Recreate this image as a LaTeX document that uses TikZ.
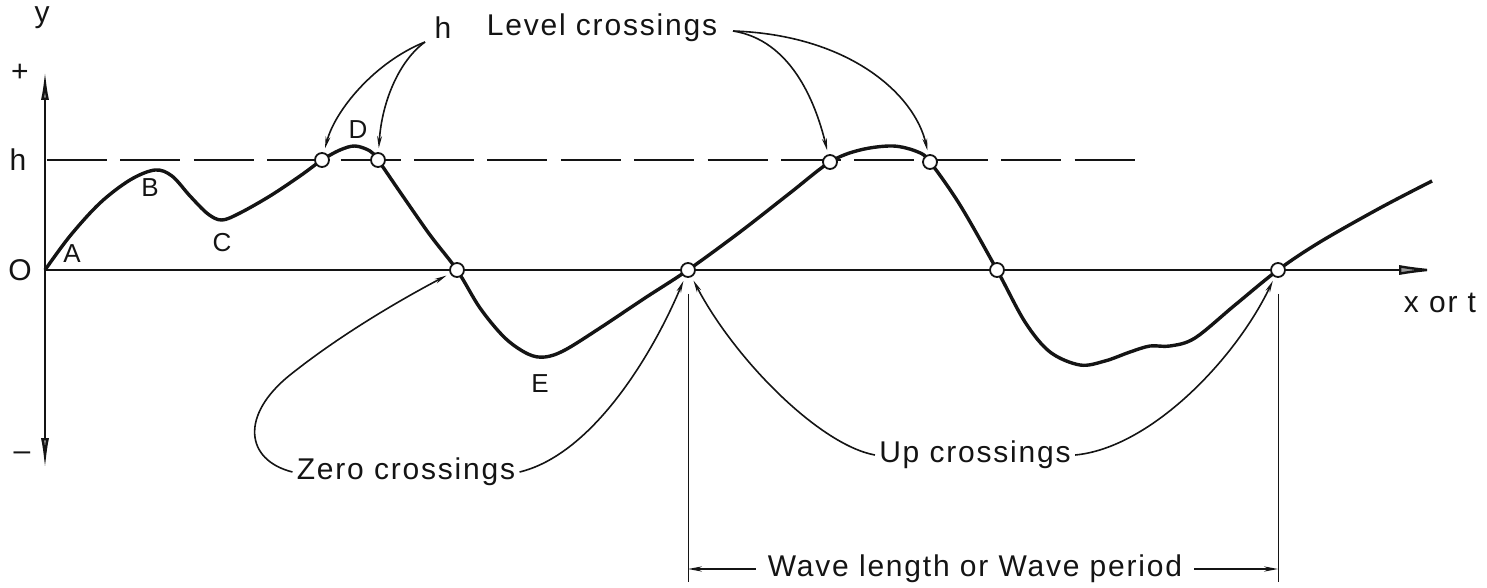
\documentclass[tikz,border=0pt]{standalone}
\usepackage{fontspec}
\setmainfont{Liberation Sans}[LetterSpace=6]
\usetikzlibrary{arrows.meta}
\definecolor{TipGray}{gray}{0.6}
\definecolor{InkDark}{gray}{0.08}

\begin{document}
\begin{tikzpicture}[x=0.5pt,y=-0.5pt, every node/.style={font=\fontsize{15}{17}\selectfont, text=InkDark, inner sep=2pt},
  wave/.style={draw=InkDark, line width=1.7pt, line join=round},
  axis/.style={draw=InkDark, line width=1.2pt},
  leader/.style={draw=InkDark, line width=0.8pt, shorten >=2pt, -{Stealth[length=6pt,width=2.4pt]}},
  dimline/.style={draw=InkDark, line width=0.5pt},
  dimarrow/.style={draw=InkDark, line width=0.8pt, -{Stealth[length=7pt,width=2.6pt]}},
  xing/.style={circle, draw=InkDark, fill=white, line width=0.9pt, minimum size=7pt, inner sep=0pt},
  ptlabel/.style={font=\fontsize{13}{15}\selectfont}]
  \useasboundingbox (0,0) rectangle (1487,588);
  \draw[axis, {Latex[length=16pt,width=4pt,fill=TipGray]}-{Latex[length=15pt,width=4pt,fill=TipGray]}] (45,470) -- (45,70);
  \draw[axis, -{Latex[length=22pt,width=5pt,fill=TipGray]}] (45,270) -- (1443,270);
  \draw[draw=InkDark, line width=1pt, dash pattern=on 30pt off 6.7pt] (47,160) -- (1135,160);
  \draw[wave] plot[smooth, tension=0.55] coordinates {(45,270) (70,236) (100,203) (130,180) (155,170)
    (172,176) (190,196) (208,214) (222,220) (240,213) (270,196) (300,176) (322,160) (340,150)
    (355,146) (370,151) (378,160) (400,192) (430,235) (457,270) (480,308) (505,338) (528,354)
    (545,357) (565,350) (600,328) (645,298) (688,270) (740,232) (790,193) (830,162) (860,150)
    (893,146) (918,152) (930,162) (960,205) (997,270) (1025,322) (1050,352) (1080,365) (1105,361)
    (1130,352) (1150,346) (1170,346) (1195,338) (1235,305) (1278,270) (1320,242) (1380,208) (1432,181)};
  \node (ylab) at (42,18) {y};
  \node (plus) at (20,73) {+};
  \node (minus) at (22,456) {--};
  \node (hlev) at (18,160) {h};
  \node (orig) at (20,270) {O};
  \node (xlab) at (1440,303) {x or t};
  \node[ptlabel] (ptA) at (72,254) {A};
  \node[ptlabel] (ptB) at (150,188) {B};
  \node[ptlabel] (ptC) at (222,243) {C};
  \node[ptlabel] (ptD) at (358,130) {D};
  \node[ptlabel] (ptE) at (540,384) {E};
  \node[xing] (lc1) at (322,160) {};
  \node[xing] (lc2) at (378,160) {};
  \node[xing] (lc3) at (830,162) {};
  \node[xing] (lc4) at (930,162) {};
  \node[xing] (zc1) at (457,270) {};
  \node[xing] (uc1) at (688,270) {};
  \node[xing] (zc2) at (997,270) {};
  \node[xing] (uc2) at (1278,270) {};
  \node (hlab) at (443,28) {h};
  \node (lclab) at (602,28) {Level crossings};
  \node (zclab) at (406,472) {Zero crossings};
  \node (uclab) at (975,455) {Up crossings};
  \node (wllab) at (975,569) {Wave length or Wave period};
  \coordinate (hfoot) at (425,42);
  \coordinate (lcfoot) at (733,31);
  \coordinate (wl1) at (688,582);
  \coordinate (wl2) at (1278,582);
  \draw[leader] (hfoot) .. controls (375,62) and (335,110) .. (lc1);
  \draw[leader] (hfoot) .. controls (400,60) and (382,100) .. (lc2);
  \draw[leader] (lcfoot) .. controls (790,40) and (815,100) .. (lc3);
  \draw[leader] (lcfoot) .. controls (850,35) and (915,95) .. (lc4);
  \draw[leader] (zclab.west) .. controls (245,460) and (240,415) .. (290,375) .. controls (340,335) and (400,300) .. (zc1);
  \draw[leader] (zclab.east) .. controls (590,455) and (650,360) .. (uc1);
  \draw[leader] (uclab.west) .. controls (820,445) and (735,360) .. (uc1);
  \draw[leader] (uclab.east) .. controls (1150,448) and (1235,360) .. (uc2);
  \draw[dimline] ([yshift=-8pt]uc1.south) -- (wl1);
  \draw[dimline] ([yshift=-8pt]uc2.south) -- (wl2);
  \draw[dimarrow] ([xshift=-4pt]wllab.west) -- (wllab.west -| wl1);
  \draw[dimarrow] ([xshift=4pt]wllab.east) -- (wllab.east -| wl2);
\end{tikzpicture}
\end{document}
